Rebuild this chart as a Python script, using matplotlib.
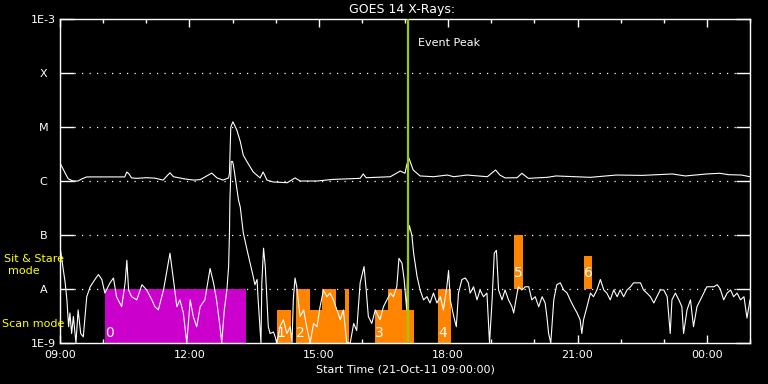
import matplotlib
matplotlib.use("Agg")
from matplotlib import pyplot as plt

# GOES 14 X-ray flux, time in hours after 21-Oct-11 09:00
long_channel = [
	(0.00, 2.15e-6), (0.06, 1.74e-6), (0.12, 1.4e-6), (0.19, 1.1e-6), (0.30, 1.0e-6),
	(0.42, 1.0e-6), (0.50, 1.09e-6), (0.62, 1.19e-6), (1.08, 1.19e-6), (1.50, 1.19e-6),
	(1.55, 1.47e-6), (1.60, 1.35e-6), (1.66, 1.14e-6), (1.78, 1.12e-6), (2.00, 1.15e-6),
	(2.20, 1.13e-6), (2.39, 1.04e-6), (2.55, 1.42e-6), (2.63, 1.2e-6), (2.90, 1.09e-6),
	(3.10, 1.04e-6), (3.25, 1.06e-6), (3.52, 1.4e-6), (3.64, 1.14e-6), (3.78, 1.04e-6),
	(3.91, 1.14e-6), (3.93, 1.4e-6), (3.96, 1.0e-5), (4.01, 1.25e-5), (4.10, 8.8e-6),
	(4.18, 5.4e-6), (4.25, 3.0e-6), (4.34, 2.25e-6), (4.48, 1.47e-6), (4.64, 1.14e-6),
	(4.71, 1.47e-6), (4.80, 1.04e-6), (4.94, 0.96e-6), (5.27, 0.93e-6), (5.45, 1.14e-6),
	(5.57, 1.0e-6), (5.96, 1.0e-6), (6.33, 1.07e-6), (6.96, 1.12e-6), (7.03, 1.35e-6),
	(7.10, 1.15e-6), (7.66, 1.2e-6), (7.89, 1.53e-6), (8.00, 1.39e-6), (8.04, 1.98e-6),
	(8.09, 2.67e-6), (8.19, 1.6e-6), (8.35, 1.24e-6), (8.66, 1.2e-6), (8.98, 1.29e-6),
	(9.13, 1.2e-6), (9.44, 1.29e-6), (9.91, 1.2e-6), (10.10, 1.6e-6), (10.20, 1.29e-6),
	(10.32, 1.14e-6), (10.60, 1.15e-6), (10.71, 1.39e-6), (10.86, 1.12e-6), (11.30, 1.17e-6),
	(11.50, 1.24e-6), (12.30, 1.17e-6), (12.90, 1.29e-6), (13.50, 1.27e-6), (14.20, 1.35e-6),
	(14.50, 1.24e-6), (15.00, 1.35e-6), (15.30, 1.39e-6), (15.50, 1.31e-6), (15.80, 1.29e-6),
	(16.00, 1.2e-6),
]

short_channel = [
	(0.00, 6.1e-8), (0.12, 1.3e-8), (0.16, 6.3e-9), (0.20, 2.0e-9), (0.23, 3.6e-9), (0.27, 1.5e-9),
	(0.31, 3.1e-9), (0.37, 1.0e-9), (0.42, 4.1e-9), (0.48, 1.5e-9), (0.54, 1.3e-9), (0.62, 7.2e-9),
	(0.70, 1.1e-8), (0.81, 1.5e-8), (0.89, 1.85e-8), (0.97, 1.5e-8), (1.04, 8.4e-9), (1.16, 1.3e-8),
	(1.24, 1.6e-8), (1.31, 7.2e-9), (1.43, 4.7e-9), (1.51, 1.3e-8), (1.55, 3.4e-8), (1.59, 9.6e-9),
	(1.66, 7.2e-9), (1.78, 6.3e-9), (1.90, 1.2e-8), (2.01, 9.6e-9), (2.13, 6.3e-9), (2.20, 4.7e-9),
	(2.28, 4.1e-9), (2.40, 9.6e-9), (2.51, 3.0e-8), (2.55, 4.6e-8), (2.63, 1.5e-8), (2.71, 4.7e-9),
	(2.78, 6.3e-9), (2.86, 3.6e-9), (2.94, 1.0e-9), (3.02, 6.3e-9), (3.09, 3.1e-9), (3.17, 2.0e-9),
	(3.25, 4.7e-9), (3.36, 6.3e-9), (3.48, 2.4e-8), (3.56, 1.3e-8), (3.63, 6.3e-9), (3.71, 2.0e-9),
	(3.75, 1.0e-9), (3.81, 4.1e-9), (3.87, 9.6e-9), (3.91, 2.6e-8), (3.93, 1.1e-7), (3.94, 4.4e-7),
	(3.97, 2.3e-6), (4.00, 2.3e-6), (4.02, 2.0e-6), (4.06, 1.2e-6), (4.10, 7.3e-7), (4.14, 4.4e-7),
	(4.18, 3.3e-7), (4.25, 1.1e-7), (4.34, 5.2e-8), (4.41, 3.0e-8), (4.48, 1.7e-8), (4.52, 1.2e-8),
	(4.57, 1.5e-8), (4.59, 7.2e-9), (4.66, 1.0e-9), (4.68, 1.3e-8), (4.72, 5.7e-8), (4.76, 2.6e-8),
	(4.80, 6.3e-9), (4.83, 2.0e-9), (4.87, 1.5e-9), (4.95, 1.6e-9), (4.99, 1.3e-9), (5.03, 1.0e-9),
	(5.10, 2.0e-9), (5.18, 2.7e-9), (5.26, 1.5e-9), (5.34, 2.0e-9), (5.38, 1.0e-9), (5.41, 6.3e-9),
	(5.45, 1.6e-8), (5.49, 1.1e-8), (5.53, 5.5e-9), (5.57, 3.1e-9), (5.65, 4.1e-9), (5.72, 2.0e-9),
	(5.80, 1.0e-9), (5.88, 2.3e-9), (5.96, 2.0e-9), (6.03, 4.7e-9), (6.11, 9.6e-9), (6.19, 7.2e-9),
	(6.26, 8.4e-9), (6.34, 6.3e-9), (6.42, 4.1e-9), (6.50, 2.7e-9), (6.57, 4.1e-9), (6.65, 1.0e-9),
	(6.73, 1.0e-9), (6.81, 2.3e-9), (6.88, 1.7e-9), (6.96, 1.3e-8), (7.05, 2.6e-8), (7.10, 9.6e-9),
	(7.15, 3.1e-9), (7.23, 2.3e-9), (7.31, 4.1e-9), (7.42, 2.7e-9), (7.50, 4.7e-9), (7.58, 6.3e-9),
	(7.66, 8.4e-9), (7.73, 7.2e-9), (7.81, 1.1e-8), (7.86, 3.7e-8), (7.93, 3.0e-8), (7.98, 1.5e-8),
	(8.04, 4.1e-9), (8.08, 1.1e-7), (8.10, 1.5e-7), (8.16, 9.8e-8), (8.20, 4.6e-8), (8.28, 1.7e-8),
	(8.35, 9.6e-9), (8.43, 6.3e-9), (8.51, 7.2e-9), (8.58, 5.5e-9), (8.66, 8.4e-9), (8.74, 5.5e-9),
	(8.82, 7.2e-9), (8.89, 4.1e-9), (8.97, 1.1e-8), (9.01, 2.2e-8), (9.05, 6.3e-9), (9.13, 3.1e-9),
	(9.19, 2.0e-9), (9.24, 8.4e-9), (9.32, 1.5e-8), (9.40, 1.6e-8), (9.47, 1.3e-8), (9.51, 8.4e-9),
	(9.59, 1.1e-8), (9.67, 6.3e-9), (9.74, 9.6e-9), (9.82, 7.2e-9), (9.90, 8.4e-9), (9.96, 1.0e-9),
	(10.02, 6.3e-9), (10.07, 4.6e-8), (10.12, 5.2e-8), (10.17, 9.6e-9), (10.25, 6.3e-9), (10.32, 9.6e-9),
	(10.40, 6.3e-9), (10.48, 4.7e-9), (10.52, 3.6e-9), (10.60, 8.4e-9), (10.63, 1.1e-8), (10.71, 9.6e-9),
	(10.79, 1.1e-8), (10.87, 1.1e-8), (10.94, 6.3e-9), (11.02, 7.2e-9), (11.10, 4.7e-9), (11.18, 7.2e-9),
	(11.25, 5.5e-9), (11.29, 3.1e-9), (11.33, 1.5e-9), (11.38, 1.0e-9), (11.45, 6.3e-9), (11.52, 1.2e-8),
	(11.60, 1.3e-8), (11.68, 9.6e-9), (11.76, 8.4e-9), (11.83, 6.3e-9), (11.91, 4.7e-9), (11.99, 3.6e-9),
	(12.06, 2.7e-9), (12.10, 1.5e-9), (12.14, 2.7e-9), (12.22, 4.7e-9), (12.30, 8.4e-9), (12.37, 7.2e-9),
	(12.45, 9.6e-9), (12.53, 1.5e-8), (12.61, 9.6e-9), (12.68, 8.4e-9), (12.76, 6.3e-9), (12.84, 9.6e-9),
	(12.92, 7.2e-9), (12.99, 9.6e-9), (13.07, 7.2e-9), (13.15, 9.6e-9), (13.23, 1.1e-8), (13.30, 1.3e-8),
	(13.38, 1.3e-8), (13.46, 1.3e-8), (13.53, 9.6e-9), (13.61, 8.4e-9), (13.69, 7.2e-9), (13.77, 5.5e-9),
	(13.84, 7.2e-9), (13.92, 9.6e-9), (14.00, 9.6e-9), (14.08, 7.2e-9), (14.15, 1.5e-9), (14.19, 6.3e-9),
	(14.27, 8.4e-9), (14.35, 6.3e-9), (14.42, 4.7e-9), (14.46, 1.5e-9), (14.54, 4.1e-9), (14.62, 6.3e-9),
	(14.69, 2.0e-9), (14.77, 4.7e-9), (14.85, 6.3e-9), (14.93, 8.4e-9), (15.00, 1.1e-8), (15.08, 1.1e-8),
	(15.16, 1.1e-8), (15.24, 1.2e-8), (15.31, 1.0e-8), (15.39, 6.3e-9), (15.47, 8.4e-9), (15.55, 9.6e-9),
	(15.62, 7.2e-9), (15.70, 8.4e-9), (15.78, 6.3e-9), (15.86, 7.2e-9), (15.93, 2.9e-9), (16.00, 6.3e-9),
]

# observing mode blocks (start h, end h, low flux, high flux)
block_start = [1.04, 5.03, 5.48, 5.80, 6.07, 6.40, 6.61, 7.31, 7.61, 7.94, 8.77, 10.53, 12.16]
block_end = [4.32, 5.36, 5.80, 6.07, 6.40, 6.61, 6.70, 7.61, 7.94, 8.21, 9.07, 10.73, 12.34]
block_low = [1e-9, 1e-9, 1e-9, 1e-9, 1e-9, 1e-9, 1e-9, 1e-9, 1e-9, 1e-9, 1e-9, 1e-8, 1e-8]
block_high = [1e-8, 4e-9, 1e-8, 4e-9, 1e-8, 4e-9, 1e-8, 4e-9, 1e-8, 4e-9, 1e-8, 1e-7, 4e-8]
block_colors = ['#cc00cc'] + ['#ff8400'] * 12

# sequence numbers, with the block each one is written on
seq_names = ["0", "1", "2", "3", "4", "5", "6"]
seq_block = [0, 1, 2, 7, 10, 11, 12]
seq_flux = [1.55e-9, 1.55e-9, 1.55e-9, 1.55e-9, 1.55e-9, 2.0e-8, 2.0e-8]

event_peak = 8.07

hour_ticks = [0, 3, 6, 9, 12, 15]
hour_labels = ["09:00", "12:00", "15:00", "18:00", "21:00", "00:00"]
class_flux = [1e-9, 1e-8, 1e-7, 1e-6, 1e-5, 1e-4, 1e-3]
class_labels = ["1E-9", "A", "B", "C", "M", "X", "1E-3"]


def plot():
	fig = plt.figure(figsize=(7.68, 3.84), dpi=100, facecolor='black')
	ax = fig.add_axes([60 / 768, 41 / 384, 690 / 768, 324 / 384])
	ax.set_facecolor('black')
	ax.set_yscale('log')
	ax.set_xlim(0, 16)
	ax.set_ylim(1e-9, 1e-3)

	for s, e, lo, hi, c in zip(block_start, block_end, block_low, block_high, block_colors):
		ax.bar(s, hi - lo, width=e - s, bottom=lo, align='edge', color=c, linewidth=0, zorder=2)

	for name, b, f in zip(seq_names, seq_block, seq_flux):
		ax.text(block_start[b] + 0.1, f, name, color='white', fontsize=10, va='center', ha='center', zorder=5)

	# dotted class lines
	for y in class_flux[1:-1]:
		ax.axhline(y, xmin=14 / 690, xmax=1 - 14 / 690, color='white', lw=0.9,
				   linestyle=(0, (1, 5)), zorder=1)

	t, f = zip(*long_channel)
	ax.plot(t, f, color='white', lw=0.8, zorder=3)
	t, f = zip(*short_channel)
	ax.plot(t, f, color='white', lw=0.8, zorder=3)

	ax.axvline(event_peak, color='#9ccc00', lw=1.6, zorder=4)
	ax.text(event_peak + 0.22, 3.6e-4, "Event Peak", color='white', fontsize=8, va='center', ha='left')

	for sp in ax.spines.values():
		sp.set_color('white')
		sp.set_linewidth(1.0)

	ax.set_xticks(hour_ticks)
	ax.set_xticklabels(hour_labels)
	ax.set_xticks(range(0, 17), minor=True)
	ax.tick_params(axis='x', which='major', direction='in', length=6, width=1, colors='white',
				   top=True, labelsize=8, pad=5)
	ax.tick_params(axis='x', which='minor', direction='in', length=3, width=1, colors='white', top=True)

	ax.set_yticks(class_flux)
	ax.set_yticklabels(class_labels)
	ax.yaxis.set_minor_locator(matplotlib.ticker.NullLocator())
	ax.tick_params(axis='y', which='major', direction='in', length=10, width=1, colors='white',
				   right=True, labelsize=8, pad=12)
	for lab in ax.get_yticklabels():
		lab.set_horizontalalignment('center')

	ax.set_xlabel('Start Time (21-Oct-11 09:00:00)', color='white', fontsize=8, labelpad=3)
	fig.text(402 / 768, 1 - 10 / 384, 'GOES 14 X-Rays:', color='white', fontsize=9, ha='center', va='center')

	fig.text(34 / 768, 1 - 259 / 384, 'Sit & Stare', color='#ffff00', fontsize=8, ha='center', va='center')
	fig.text(24 / 768, 1 - 271 / 384, 'mode', color='#ffff00', fontsize=8, ha='center', va='center')
	fig.text(2 / 768, 1 - 324 / 384, 'Scan mode', color='#ffff00', fontsize=8, ha='left', va='center')

	fig.savefig('out.png', dpi=100, facecolor='black')


plot()
